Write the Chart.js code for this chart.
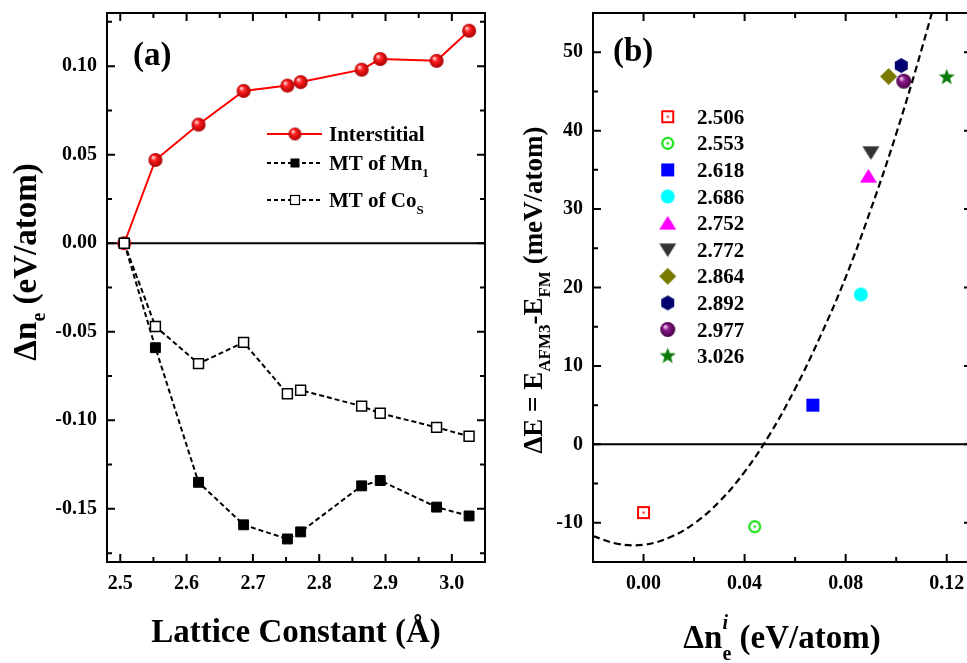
<!DOCTYPE html>
<html>
<head>
<meta charset="utf-8">
<script src="https://cdn.jsdelivr.net/npm/chart.js@4.4.0/dist/chart.umd.min.js"></script>
<style>
  html, body { margin: 0; padding: 0; background: #fff; overflow: hidden; width: 967px; height: 663px; }
  canvas { position: absolute; top: 0; }
  #chartA { left: 0; }
  #chartB { left: 520px; }
</style>
</head>
<body>
<canvas id="chartA" width="540" height="663"></canvas>
<canvas id="chartB" width="480" height="663"></canvas>
<script>
/* ================= DATA : panel (a) ================= */
const latticeConst = [2.506, 2.553, 2.618, 2.686, 2.752, 2.772, 2.864, 2.892, 2.977, 3.026];
const interstitial = [0, 0.047, 0.067, 0.086, 0.089, 0.091, 0.098, 0.104, 0.103, 0.120];
const mtMn1        = [0, -0.059, -0.135, -0.159, -0.167, -0.163, -0.137, -0.134, -0.149, -0.154];
const mtCoS        = [0, -0.047, -0.068, -0.056, -0.085, -0.083, -0.092, -0.096, -0.104, -0.109];
const ticksAX = [2.5, 2.6, 2.7, 2.8, 2.9, 3.0];
const ticksAY = [-0.15, -0.10, -0.05, 0.00, 0.05, 0.10];

/* ================= DATA : panel (b) ================= */
const legendB = ["2.506", "2.553", "2.618", "2.686", "2.752", "2.772", "2.864", "2.892", "2.977", "3.026"];
const dnInter = [0, 0.044, 0.067, 0.086, 0.089, 0.090, 0.097, 0.102, 0.103, 0.120];
const dEnergy = [-8.7, -10.5, 5.0, 19.1, 34.2, 37.2, 46.9, 48.3, 46.3, 46.8];
const fitX = [-0.02, -0.01, 0, 0.01, 0.02, 0.03, 0.04, 0.05, 0.06, 0.07, 0.08, 0.09, 0.10, 0.11, 0.12];
const fitY = [-11.7, -12.7, -12.8, -11.9, -10.1, -7.3, -3.5, 1.3, 7.1, 13.8, 21.3, 30.0, 39.6, 50.3, 62.0];
const ticksBX = [0, 0.04, 0.08, 0.12];
const ticksBY = [-10, 0, 10, 20, 30, 40, 50];

const SERIF = '"Liberation Serif", "Times New Roman", serif';
Chart.defaults.font.family = SERIF;
Chart.defaults.font.weight = 'bold';
Chart.defaults.color = '#000';

/* ================= MARKERS ================= */
function makeSphere(d, light, mid, dark) {
  const c = document.createElement('canvas');
  c.width = c.height = d + 2;
  const g = c.getContext('2d');
  const m = c.width / 2, r = d / 2;
  const grad = g.createRadialGradient(m - r * 0.35, m - r * 0.4, r * 0.08, m, m, r);
  grad.addColorStop(0, light);
  grad.addColorStop(0.35, mid);
  grad.addColorStop(1, dark);
  g.fillStyle = grad;
  g.beginPath(); g.arc(m, m, r, 0, Math.PI * 2); g.fill();
  return c;
}

function makeMarker(kind, color, size) {
  const c = document.createElement('canvas');
  c.width = c.height = size + 4;
  const g = c.getContext('2d');
  const m = c.width / 2, h = size / 2;
  g.fillStyle = color; g.strokeStyle = color; g.lineWidth = 2;
  g.beginPath();
  if (kind === 'squareDot') {
    g.strokeRect(m - h + 1, m - h + 1, size - 2, size - 2);
    g.fillRect(m - 1, m - 1, 2, 2);
  } else if (kind === 'circleDot') {
    g.arc(m, m, h - 1, 0, Math.PI * 2); g.stroke();
    g.beginPath(); g.arc(m, m, 1.3, 0, Math.PI * 2); g.fill();
  } else if (kind === 'square') {
    g.fillRect(m - h, m - h, size, size);
  } else if (kind === 'circle') {
    g.arc(m, m, h, 0, Math.PI * 2); g.fill();
  } else if (kind === 'triUp') {
    g.moveTo(m, m - h * 0.85); g.lineTo(m + h, m + h * 0.75); g.lineTo(m - h, m + h * 0.75); g.fill();
  } else if (kind === 'triDown') {
    g.moveTo(m, m + h * 0.85); g.lineTo(m + h, m - h * 0.75); g.lineTo(m - h, m - h * 0.75); g.fill();
  } else if (kind === 'diamond') {
    g.moveTo(m, m - h); g.lineTo(m + h, m); g.lineTo(m, m + h); g.lineTo(m - h, m); g.fill();
  } else if (kind === 'hexagon') {
    for (let k = 0; k < 6; k++) {
      const a = -Math.PI / 2 + k * Math.PI / 3;
      g.lineTo(m + h * Math.cos(a), m + h * Math.sin(a));
    }
    g.fill();
  } else if (kind === 'star') {
    for (let k = 0; k < 10; k++) {
      const a = -Math.PI / 2 + k * Math.PI / 5;
      const rr = k % 2 ? h * 0.42 : h;
      g.lineTo(m + rr * Math.cos(a), m + rr * Math.sin(a));
    }
    g.fill();
  }
  return c;
}

const redSphere = makeSphere(14, '#ffd6d6', '#ff2020', '#a80000');
const redSphereSmall = makeSphere(13, '#ffd6d6', '#ff2020', '#a80000');

const markersB = [
  makeMarker('squareDot', '#ff0000', 13),
  makeMarker('circleDot', '#00e000', 13),
  makeMarker('square', '#0000ff', 13),
  makeMarker('circle', '#00ffff', 14),
  makeMarker('triUp', '#ff00ff', 17),
  makeMarker('triDown', '#333333', 17),
  makeMarker('diamond', '#7a7a00', 17),
  makeMarker('hexagon', '#000070', 15),
  makeSphere(15, '#f0c8f0', '#8a1a8a', '#450045'),
  makeMarker('star', '#0a7a0a', 17)
];

/* ================= HELPERS ================= */
function fontOf(p) {
  return (p.italic ? 'italic ' : '') + 'bold ' + p.size + 'px ' + SERIF;
}

// text with sub/superscripts; parts = [{t, size, dy, italic, over}]
function richText(ctx, parts, x, y, align) {
  let w = 0;
  parts.forEach(p => {
    ctx.font = fontOf(p);
    p.w = ctx.measureText(p.t).width;
    if (!p.over) w += p.w;
  });
  let cx = align === 'center' ? x - w / 2 : x;
  ctx.textAlign = 'left';
  ctx.textBaseline = 'alphabetic';
  ctx.fillStyle = '#000';
  parts.forEach(p => {
    ctx.font = fontOf(p);
    ctx.fillText(p.t, cx, y + (p.dy || 0));
    if (!p.over) cx += p.w;
  });
}

// frame, inward ticks, zero line and free text
function makeFrame(cfg) {
  return {
    id: 'frame' + cfg.name,
    beforeDatasetsDraw(chart) {
      const { ctx, chartArea: a, scales: { y } } = chart;
      const y0 = y.getPixelForValue(0);
      ctx.save();
      ctx.strokeStyle = '#000'; ctx.lineWidth = 2;
      ctx.beginPath(); ctx.moveTo(a.left, y0); ctx.lineTo(a.right, y0); ctx.stroke();
      ctx.restore();
    },
    afterDraw(chart) {
      const { ctx, chartArea: a, scales: { x, y } } = chart;
      ctx.save();
      ctx.strokeStyle = '#000'; ctx.lineWidth = 2;
      ctx.strokeRect(a.left, a.top, a.right - a.left, a.bottom - a.top);
      ctx.beginPath();
      const xt = (vals, len) => vals.forEach(v => {
        const px = x.getPixelForValue(v);
        ctx.moveTo(px, a.bottom); ctx.lineTo(px, a.bottom - len);
        ctx.moveTo(px, a.top); ctx.lineTo(px, a.top + len);
      });
      const yt = (vals, len) => vals.forEach(v => {
        const py = y.getPixelForValue(v);
        ctx.moveTo(a.left, py); ctx.lineTo(a.left + len, py);
        ctx.moveTo(a.right, py); ctx.lineTo(a.right - len, py);
      });
      xt(cfg.xMajor, 8); xt(cfg.xMinor, 5);
      yt(cfg.yMajor, 8); yt(cfg.yMinor, 5);
      ctx.stroke();
      cfg.extra(ctx, chart);
      ctx.restore();
    }
  };
}

function fixedScale(min, max, ticks, fmt, size) {
  return {
    type: 'linear', min: min, max: max,
    grid: { display: false, drawTicks: false }, border: { display: false },
    afterBuildTicks: s => { s.ticks = ticks.map(v => ({ value: v })); },
    afterFit: s => {
      if (s.isHorizontal()) s.height = size; else s.width = size;
      s.paddingTop = s.paddingBottom = s.paddingLeft = s.paddingRight = 0;
    },
    ticks: { autoSkip: false, maxRotation: 0, padding: 10, font: { size: 20, weight: 'bold' }, callback: fmt }
  };
}

/* ================= PANEL (a) ================= */
new Chart(document.getElementById('chartA'), {
  type: 'line',
  data: {
    datasets: [
      {
        label: 'MT of CoS',
        data: latticeConst.map((v, i) => ({ x: v, y: mtCoS[i] })),
        borderColor: '#000', borderWidth: 2, borderDash: [5, 3],
        pointStyle: 'rect', pointRadius: 7, pointBorderWidth: 1.5,
        pointBackgroundColor: '#fff', pointBorderColor: '#000', tension: 0
      },
      {
        label: 'MT of Mn1',
        data: latticeConst.map((v, i) => ({ x: v, y: mtMn1[i] })),
        borderColor: '#000', borderWidth: 2, borderDash: [5, 3],
        pointStyle: 'rect', pointRadius: 7, pointBorderWidth: 1,
        pointBackgroundColor: '#000', pointBorderColor: '#000', tension: 0
      },
      {
        label: 'Interstitial',
        data: latticeConst.map((v, i) => ({ x: v, y: interstitial[i] })),
        borderColor: '#ff0000', borderWidth: 2,
        pointStyle: redSphere, pointRadius: 7, tension: 0
      }
    ]
  },
  options: {
    responsive: false, animation: false, events: [],
    layout: { padding: { left: 0, top: 13, right: 55, bottom: 0 } },
    plugins: { legend: { display: false }, tooltip: { enabled: false } },
    scales: {
      x: fixedScale(2.48, 3.05, ticksAX, v => v.toFixed(1), 101),
      y: fixedScale(-0.18, 0.13, ticksAY, v => v.toFixed(2), 107)
    }
  },
  plugins: [makeFrame({
    name: 'A',
    xMajor: ticksAX, xMinor: [2.55, 2.65, 2.75, 2.85, 2.95],
    yMajor: ticksAY, yMinor: [-0.175, -0.125, -0.075, -0.025, 0.025, 0.075, 0.125],
    extra(ctx) {
      // panel label
      richText(ctx, [{ t: '(a)', size: 33 }], 133, 65, 'left');

      // legend
      const rows = [134, 163, 200];
      ctx.lineWidth = 2; ctx.strokeStyle = '#ff0000';
      ctx.beginPath(); ctx.moveTo(267, rows[0]); ctx.lineTo(322, rows[0]); ctx.stroke();
      ctx.drawImage(redSphereSmall, 295 - redSphereSmall.width / 2, rows[0] - redSphereSmall.height / 2);
      ctx.strokeStyle = '#000'; ctx.lineWidth = 1.8; ctx.setLineDash([4, 3]);
      [rows[1], rows[2]].forEach(ry => {
        ctx.beginPath(); ctx.moveTo(267, ry); ctx.lineTo(322, ry); ctx.stroke();
      });
      ctx.setLineDash([]);
      ctx.fillStyle = '#000';
      ctx.fillRect(290.5, rows[1] - 4.5, 9, 9);
      ctx.fillStyle = '#fff'; ctx.fillRect(290.5, rows[2] - 4.5, 9, 9);
      ctx.lineWidth = 1.2; ctx.strokeRect(290.5, rows[2] - 4.5, 9, 9);
      richText(ctx, [{ t: 'Interstitial', size: 21 }], 329, rows[0] + 7, 'left');
      richText(ctx, [{ t: 'MT of Mn', size: 21 }, { t: '1', size: 13, dy: 7 }], 329, rows[1] + 7, 'left');
      richText(ctx, [{ t: 'MT of Co', size: 21 }, { t: 'S', size: 13, dy: 7 }], 329, rows[2] + 7, 'left');

      // axis titles
      richText(ctx, [{ t: 'Lattice Constant (Å)', size: 33 }], 296, 642, 'center');
      ctx.save();
      ctx.translate(36, 262);
      ctx.rotate(-Math.PI / 2);
      richText(ctx, [{ t: 'Δn', size: 33 }, { t: 'e', size: 20, dy: 9 }, { t: ' (eV/atom)', size: 33 }], 0, 0, 'center');
      ctx.restore();
    }
  })]
});

/* ================= PANEL (b) ================= */
const pointSets = legendB.map((lab, i) => ({
  label: lab,
  data: [{ x: dnInter[i], y: dEnergy[i] }],
  pointStyle: markersB[i], pointRadius: 7
}));

new Chart(document.getElementById('chartB'), {
  type: 'scatter',
  data: {
    datasets: pointSets.concat([{
      label: 'fit',
      data: fitX.map((v, i) => ({ x: v, y: fitY[i] })),
      showLine: true, borderColor: '#000', borderWidth: 2.2, borderDash: [7, 4],
      pointRadius: 0, tension: 0.4
    }])
  },
  options: {
    responsive: false, animation: false, events: [],
    layout: { padding: { left: 0, top: 13, right: 28, bottom: 0 } },
    plugins: { legend: { display: false }, tooltip: { enabled: false } },
    scales: {
      x: fixedScale(-0.02, 0.13, ticksBX, v => v.toFixed(2), 101),
      y: fixedScale(-15, 55, ticksBY, v => String(v), 73)
    }
  },
  plugins: [makeFrame({
    name: 'B',
    xMajor: ticksBX, xMinor: [0.02, 0.06, 0.10],
    yMajor: ticksBY, yMinor: [-5, 5, 15, 25, 35, 45],
    extra(ctx) {
      richText(ctx, [{ t: '(b)', size: 33 }], 93, 61, 'left');

      // legend
      legendB.forEach((lab, i) => {
        const ry = 116.7 + i * 26.6;
        const mk = markersB[i];
        ctx.drawImage(mk, 147.7 - mk.width / 2, ry - mk.height / 2);
        richText(ctx, [{ t: lab, size: 21 }], 177, ry + 7, 'left');
      });

      // axis titles
      richText(ctx, [
        { t: 'Δn', size: 33 },
        { t: 'i', size: 20, dy: -19, italic: true, over: true },
        { t: 'e', size: 20, dy: 12 },
        { t: ' (eV/atom)', size: 33 }
      ], 262, 648, 'center');
      ctx.save();
      ctx.translate(22, 290);
      ctx.rotate(-Math.PI / 2);
      richText(ctx, [
        { t: 'ΔE = E', size: 27 }, { t: 'AFM3', size: 17, dy: 8 },
        { t: '-E', size: 27 }, { t: 'FM', size: 17, dy: 8 },
        { t: ' (meV/atom)', size: 27 }
      ], 0, 0, 'center');
      ctx.restore();
    }
  })]
});
</script>
</body>
</html>
